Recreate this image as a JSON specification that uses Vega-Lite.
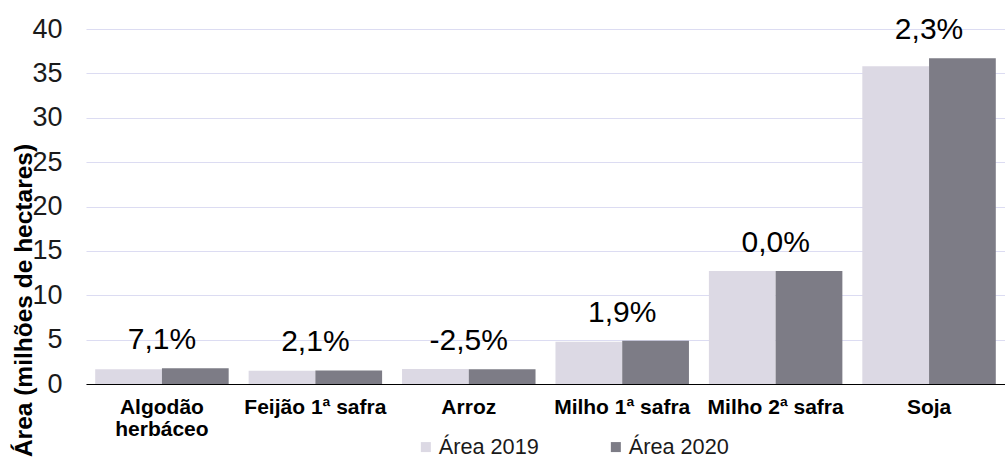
{
  "$schema": "https://vega.github.io/schema/vega-lite/v6.json",
  "width": 919,
  "height": 355,
  "autosize": {"type": "none"},
  "padding": {"left": 86, "top": 29, "right": 0, "bottom": 77},
  "background": "white",
  "config": {
    "font": "Liberation Sans",
    "view": {"stroke": null}
  },
  "datasets": {
    "bars": [
      {"cultura": "Algodão herbáceo", "ano": "Área 2019", "area": 1.66},
      {"cultura": "Algodão herbáceo", "ano": "Área 2020", "area": 1.78},
      {"cultura": "Feijão 1ª safra", "ano": "Área 2019", "area": 1.50},
      {"cultura": "Feijão 1ª safra", "ano": "Área 2020", "area": 1.53},
      {"cultura": "Arroz", "ano": "Área 2019", "area": 1.70},
      {"cultura": "Arroz", "ano": "Área 2020", "area": 1.66},
      {"cultura": "Milho 1ª safra", "ano": "Área 2019", "area": 4.77},
      {"cultura": "Milho 1ª safra", "ano": "Área 2020", "area": 4.86},
      {"cultura": "Milho 2ª safra", "ano": "Área 2019", "area": 12.73},
      {"cultura": "Milho 2ª safra", "ano": "Área 2020", "area": 12.73},
      {"cultura": "Soja", "ano": "Área 2019", "area": 35.8},
      {"cultura": "Soja", "ano": "Área 2020", "area": 36.7}
    ],
    "labels": [
      {"cultura": "Algodão herbáceo", "topo": 1.78, "variacao": "7,1%"},
      {"cultura": "Feijão 1ª safra", "topo": 1.53, "variacao": "2,1%"},
      {"cultura": "Arroz", "topo": 1.70, "variacao": "-2,5%"},
      {"cultura": "Milho 1ª safra", "topo": 4.86, "variacao": "1,9%"},
      {"cultura": "Milho 2ª safra", "topo": 12.73, "variacao": "0,0%"},
      {"cultura": "Soja", "topo": 36.7, "variacao": "2,3%"}
    ]
  },
  "layer": [
    {
      "data": {"name": "bars"},
      "mark": {"type": "bar"},
      "encoding": {
        "x": {
          "field": "cultura",
          "type": "nominal",
          "sort": null,
          "scale": {"paddingInner": 0.13, "paddingOuter": 0.06},
          "axis": {
            "title": null,
            "labelAngle": 0,
            "labelFontSize": 21,
            "labelFontWeight": "bold",
            "labelColor": "#000000",
            "labelPadding": 12,
            "labelLineHeight": 22,
            "labelLimit": 300,
            "ticks": false,
            "domainColor": "#000000",
            "domainWidth": 1.2,
            "labelExpr": "datum.value == 'Algodão herbáceo' ? ['Algodão', 'herbáceo'] : datum.value"
          }
        },
        "xOffset": {"field": "ano", "type": "nominal", "scale": {"paddingInner": 0, "paddingOuter": 0}},
        "y": {
          "field": "area",
          "type": "quantitative",
          "scale": {"domain": [0, 40], "nice": false},
          "axis": {
            "title": "Área (milhões de hectares)",
            "titleFontSize": 24.5,
            "titleFontWeight": "bold",
            "titleColor": "#000000",
            "titleAngle": -90,
            "titleAlign": "center",
            "titleBaseline": "middle",
            "titleX": -62,
            "titleY": 271,
            "values": [0, 5, 10, 15, 20, 25, 30, 35, 40],
            "labelFontSize": 27,
            "labelColor": "#1a1a1a",
            "labelPadding": 24,
            "ticks": false,
            "domain": false,
            "gridColor": "#dcdcf2",
            "gridWidth": 1.2
          }
        },
        "color": {
          "field": "ano",
          "type": "nominal",
          "scale": {"domain": ["Área 2019", "Área 2020"], "range": ["#dcd9e4", "#7d7c86"]},
          "legend": {
            "title": null,
            "orient": "none",
            "direction": "horizontal",
            "legendX": 329,
            "legendY": 407,
            "symbolType": "square",
            "symbolSize": 100,
            "symbolStrokeWidth": 0,
            "labelFontSize": 21.7,
            "labelColor": "#1a1a1a",
            "labelOffset": 2,
            "labelLimit": 300,
            "columnPadding": 66
          }
        }
      }
    },
    {
      "data": {"name": "labels"},
      "mark": {"type": "text", "fontSize": 30, "baseline": "alphabetic", "dy": -19, "color": "#000000"},
      "encoding": {
        "x": {"field": "cultura", "type": "nominal", "sort": null},
        "y": {"field": "topo", "type": "quantitative"},
        "text": {"field": "variacao"}
      }
    }
  ]
}
